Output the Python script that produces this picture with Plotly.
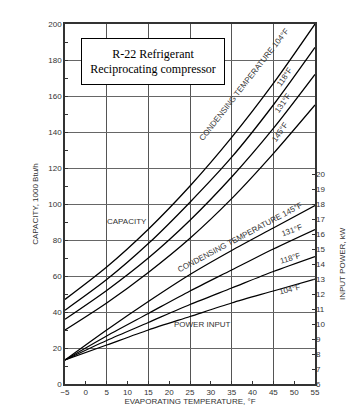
import plotly.graph_objects as go

# Evaporating temperature (°F)
evap_temp = [-5, 5, 15, 25, 35, 45, 55]

# Capacity, 1000 Btu/h, per condensing temperature
cap_104 = [47, 65, 86, 110, 137, 167, 200]
cap_118 = [41, 58, 78, 101, 126, 155, 187]
cap_131 = [36, 52, 70, 91, 115, 142, 172]
cap_145 = [30, 45, 62, 81, 103, 128, 155]

# Input power, kW, per condensing temperature
pow_104 = [7.6, 8.6, 9.6, 10.5, 11.4, 12.2, 13.0]
pow_118 = [7.6, 8.9, 10.1, 11.3, 12.4, 13.5, 14.5]
pow_131 = [7.6, 9.2, 10.7, 12.2, 13.6, 15.0, 16.3]
pow_145 = [7.6, 9.6, 11.5, 13.3, 14.9, 16.4, 17.9]

x_ticks = list(range(-5, 56, 5))
x_grid = [5, 15, 25, 35, 45]
y_ticks = list(range(0, 201, 20))
y2_ticks = list(range(6, 21))

LINE = dict(color="black", width=1.3, shape="spline", smoothing=0.8)
TXT = "#333333"
SANS = "Liberation Sans, Arial, sans-serif"

fig = go.Figure()
for cap in [cap_104, cap_118, cap_131, cap_145]:
    fig.add_trace(go.Scatter(x=evap_temp, y=cap, mode="lines", line=LINE,
                             showlegend=False, hoverinfo="skip"))
for pw in [pow_104, pow_118, pow_131, pow_145]:
    fig.add_trace(go.Scatter(x=evap_temp, y=pw, mode="lines", line=LINE,
                             yaxis="y2", showlegend=False, hoverinfo="skip"))

fig.update_layout(
    width=360, height=417,
    margin=dict(l=65, r=45, t=24, b=30),
    paper_bgcolor="white", plot_bgcolor="white",
    font=dict(family=SANS, size=8, color=TXT),
    xaxis=dict(
        range=[-5, 55], tickvals=x_ticks, ticktext=["\u22125"] + [str(v) for v in x_ticks[1:]],
        ticks="inside", ticklen=3, tickcolor="#333",
        showgrid=False, zeroline=False,
        showline=True, linecolor="#333", linewidth=1.5, mirror=True,
        minor=dict(tickvals=x_grid, showgrid=True, gridcolor="#555", gridwidth=1, ticks=""),
        title=dict(text="EVAPORATING TEMPERATURE, °F", standoff=2, font=dict(size=8, color=TXT)),
        tickfont=dict(size=8, color=TXT),
    ),
    yaxis=dict(
        range=[0, 200], tickvals=y_ticks,
        ticks="inside", ticklen=3, tickcolor="#333",
        showgrid=True, gridcolor="#666", gridwidth=1, zeroline=False,
        showline=True, linecolor="#333", linewidth=1.5, mirror=True,
        minor=dict(dtick=10, ticks="inside", ticklen=3, tickcolor="#333", showgrid=False),
        title=dict(text="CAPACITY, 1000 Btu/h", standoff=8, font=dict(size=8, color=TXT)),
        tickfont=dict(size=8, color=TXT),
    ),
    yaxis2=dict(
        overlaying="y", side="right", range=[6, 30], tickvals=y2_ticks,
        ticks="inside", ticklen=3, tickcolor="#333",
        showgrid=False, zeroline=False, showline=False,
        tickfont=dict(size=8, color=TXT),
    ),
)

def label(text, x, y, angle=0, yref="y", size=8):
    fig.add_annotation(text=text, x=x, y=y, xref="x", yref=yref, textangle=angle,
                       xanchor="center", yanchor="middle",
                       showarrow=False, font=dict(family=SANS, size=size, color=TXT))

label("CONDENSING TEMPERATURE 104°F", 38.0, 166.5, -52)
label("118°F", 47.6, 170.5, -55)
label("131°F", 47.2, 156, -55)
label("145°F", 46.5, 140, -55)
label("CAPACITY", 9.9, 90.4)
label("CONDENSING TEMPERATURE 145°F", 37.0, 81.5, -28)
label("131°F", 49.4, 85.5, -20)
label("118°F", 49.0, 69.5, -17)
label("104°F", 49.0, 52.5, -14)
label("POWER INPUT", 27.9, 33.0)

fig.add_annotation(text="INPUT POWER, kW", xref="paper", yref="y2", x=1, y=14,
                   xanchor="center", yanchor="middle",
                   xshift=27, textangle=-90, showarrow=False,
                   font=dict(family=SANS, size=8, color=TXT))

fig.add_annotation(text="R-22 Refrigerant<br>Reciprocating compressor",
                   xref="paper", yref="paper", x=0.352, y=0.897,
                   xanchor="center", yanchor="middle",
                   showarrow=False, bgcolor="white", bordercolor="black", borderwidth=1,
                   borderpad=3, width=136, height=39, align="center", valign="middle",
                   font=dict(family="Liberation Serif, Times New Roman, serif", size=12, color="black"))

fig.write_html("out.html", config={"displayModeBar": False},
               post_script="document.body.style.margin='0';document.body.style.overflow='hidden';")
